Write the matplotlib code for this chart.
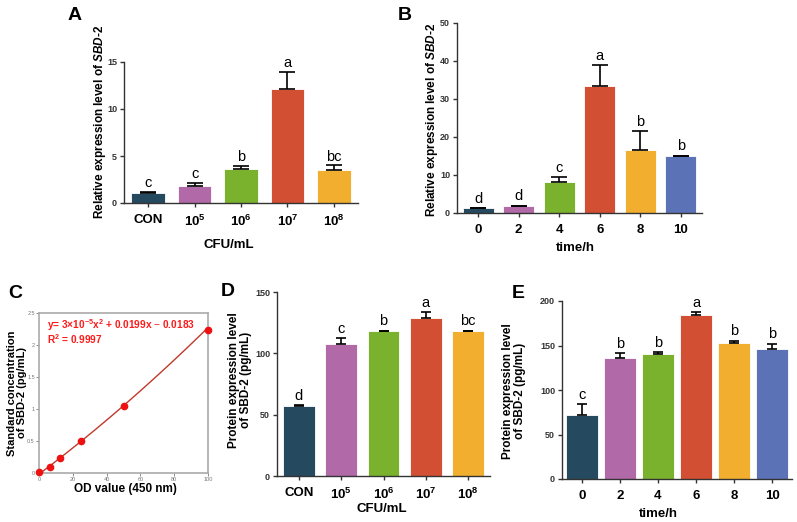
import numpy as np
import matplotlib
matplotlib.use("Agg")
import matplotlib.pyplot as plt

plt.rcParams['font.family'] = ['Liberation Sans', 'DejaVu Sans']
plt.rcParams['mathtext.fontset'] = 'custom'
plt.rcParams['mathtext.rm'] = 'Liberation Sans'
plt.rcParams['mathtext.bf'] = 'Liberation Sans:bold'
plt.rcParams['mathtext.it'] = 'Liberation Sans:italic'
plt.rcParams['mathtext.bfit'] = 'Liberation Sans:bold:italic'

# ---- data ----
colors = ['#254a5f', '#b169a8', '#7ab22e', '#d24f33', '#f1ae2f', '#5b72b6']

cfu_labels = ['CON', r'$\mathbf{10^5}$', r'$\mathbf{10^6}$', r'$\mathbf{10^7}$', r'$\mathbf{10^8}$']
time_labels = ['0', '2', '4', '6', '8', '10']

a_vals = [1.05, 1.8, 3.65, 12.1, 3.5]
a_err = [0.1, 0.35, 0.3, 1.85, 0.5]
a_sig = ['c', 'c', 'b', 'a', 'bc']

b_vals = [1.2, 1.8, 8.2, 33.4, 16.6, 14.9]
b_err = [0.1, 0.15, 1.2, 5.5, 4.9, 0.2]
b_sig = ['d', 'd', 'c', 'a', 'b', 'b']

c_x = [0, 6.25, 12.5, 25, 50, 100]
c_y = [0.01, 0.1, 0.23, 0.5, 1.05, 2.23]
c_coef = [3e-5, 0.0199, -0.0183]

d_vals = [57, 108, 118, 128.5, 118]
d_err = [0.6, 4.5, 0.4, 5, 0.4]
d_sig = ['d', 'c', 'b', 'a', 'bc']

e_vals = [72, 135.5, 140, 184.5, 153, 146.5]
e_err = [12, 6, 2.5, 3, 2.5, 5.5]
e_sig = ['c', 'b', 'b', 'a', 'b', 'b']

W, H = 797, 522
fig = plt.figure(figsize=(W / 100, H / 100), dpi=100)


def px_axes(l, t, r, b):
    return fig.add_axes([l / W, 1 - b / H, (r - l) / W, (b - t) / H])


def ftext(x, y, s, **kw):
    fig.text(x / W, 1 - y / H, s, **kw)


def bar_panel(ax, vals, err, sig, labels, ymax, yticks, width, pad_off, cap):
    n = len(vals)
    x = np.arange(n)
    ax.bar(x, vals, width=width, color=colors[:n], edgecolor='white', linewidth=0.6, zorder=2)
    ax.errorbar(x, vals, yerr=[np.zeros(n), err], fmt='none', ecolor='black',
                elinewidth=1.2, capsize=cap, capthick=1.2, zorder=3)
    for xi, v, e, s in zip(x, vals, err, sig):
        ax.text(xi, v + e + pad_off, s, ha='center', va='bottom', fontsize=10.5)
    ax.set_xlim(-0.52, n - 0.48)
    ax.set_ylim(0, ymax)
    ax.set_yticks(yticks)
    ax.set_xticks(x)
    ax.set_xticklabels(labels, fontsize=9.5, fontweight='bold')
    for lbl in ax.get_yticklabels():
        lbl.set_fontsize(6.5)
        lbl.set_fontweight('bold')
        lbl.set_color('#333333')
    for sp in ['top', 'right']:
        ax.spines[sp].set_visible(False)
    for sp in ['left', 'bottom']:
        ax.spines[sp].set_linewidth(1.0)
        ax.spines[sp].set_color('#333333')
    ax.tick_params(axis='both', direction='out', length=3, width=1.0, color='#333333')
    ax.tick_params(axis='x', pad=5)
    ax.tick_params(axis='y', pad=2)


# A
axA = px_axes(124, 62, 358, 203)
bar_panel(axA, a_vals, a_err, a_sig, cfu_labels, 15, [0, 5, 10, 15], 0.72, 0.2, 5.5)
ftext(75, 15, 'A', fontsize=14, fontweight='bold', ha='center', va='center')
ftext(100, 122, r'Relative expression level of $\mathbfit{SBD}$-2', rotation=90,
      fontsize=8.5, fontweight='bold', ha='center', va='center')
ftext(229, 245, 'CFU/mL', fontsize=9.5, fontweight='bold', ha='center', va='center')

# B
axB = px_axes(457, 23, 702, 213)
bar_panel(axB, b_vals, b_err, b_sig, time_labels, 50, [0, 10, 20, 30, 40, 50], 0.76, 0.6, 5.5)
ftext(405, 15, 'B', fontsize=14, fontweight='bold', ha='center', va='center')
ftext(432, 120, r'Relative expression level of $\mathbfit{SBD}$-2', rotation=90,
      fontsize=8.5, fontweight='bold', ha='center', va='center')
ftext(575, 248, 'time/h', fontsize=9.5, fontweight='bold', ha='center', va='center')

# C
axC = px_axes(39, 313, 208, 473)
xx = np.linspace(0, 100, 200)
axC.plot(xx, np.polyval(c_coef, xx), color='#c0392b', linewidth=1.0, zorder=2)
axC.plot(c_x, c_y, 'o', color='#ee1111', markersize=4.5, zorder=3, clip_on=False)
axC.set_xlim(0, 100)
axC.set_ylim(0, 2.5)
axC.set_xticks([0, 20, 40, 60, 80, 100])
axC.set_yticks([0, 0.5, 1, 1.5, 2, 2.5])
axC.set_yticklabels(['0', '0.5', '1', '1.5', '2', '2.5'])
axC.tick_params(labelsize=4, colors='#777777', length=2, width=0.6, pad=1)
for sp in axC.spines.values():
    sp.set_color('#aaaaaa')
    sp.set_linewidth(1.2)
axC.text(0.05, 0.925, r'y= 3×10$^{\mathbf{-5}}$x$^{\mathbf{2}}$ + 0.0199x $-$ 0.0183',
         transform=axC.transAxes, color='#ff1a1a', fontsize=7.3, fontweight='bold', va='center')
axC.text(0.05, 0.84, r'R$^{\mathbf{2}}$ = 0.9997', transform=axC.transAxes,
         color='#ff1a1a', fontsize=7.3, fontweight='bold', va='center')
ftext(15, 293, 'C', fontsize=14, fontweight='bold', ha='center', va='center')
ftext(17, 393, 'Standard concentration\nof SBD-2 (pg/mL)', rotation=90, fontsize=8,
      fontweight='bold', ha='center', va='center', linespacing=1.1)
ftext(125, 489, 'OD value (450 nm)', fontsize=8.5, fontweight='bold', ha='center', va='center')

# D
axD = px_axes(277, 292, 490, 476)
bar_panel(axD, d_vals, d_err, d_sig, cfu_labels, 150, [0, 50, 100, 150], 0.75, 2, 3.3)
ftext(228, 292, 'D', fontsize=14, fontweight='bold', ha='center', va='center')
ftext(240, 380, 'Protein expression level\nof SBD-2 (pg/mL)', rotation=90, fontsize=8.5,
      fontweight='bold', ha='center', va='center', linespacing=1.1)
ftext(382, 509, 'CFU/mL', fontsize=9.5, fontweight='bold', ha='center', va='center')

# E
axE = px_axes(562, 301, 792, 479)
bar_panel(axE, e_vals, e_err, e_sig, time_labels, 200, [0, 50, 100, 150, 200], 0.84, 2.5, 3.3)
ftext(518, 293, 'E', fontsize=14, fontweight='bold', ha='center', va='center')
ftext(514, 391, 'Protein expression level\nof SBD-2 (pg/mL)', rotation=90, fontsize=8.5,
      fontweight='bold', ha='center', va='center', linespacing=1.1)
ftext(658, 514, 'time/h', fontsize=9.5, fontweight='bold', ha='center', va='center')

fig.savefig('out.png', dpi=100)
